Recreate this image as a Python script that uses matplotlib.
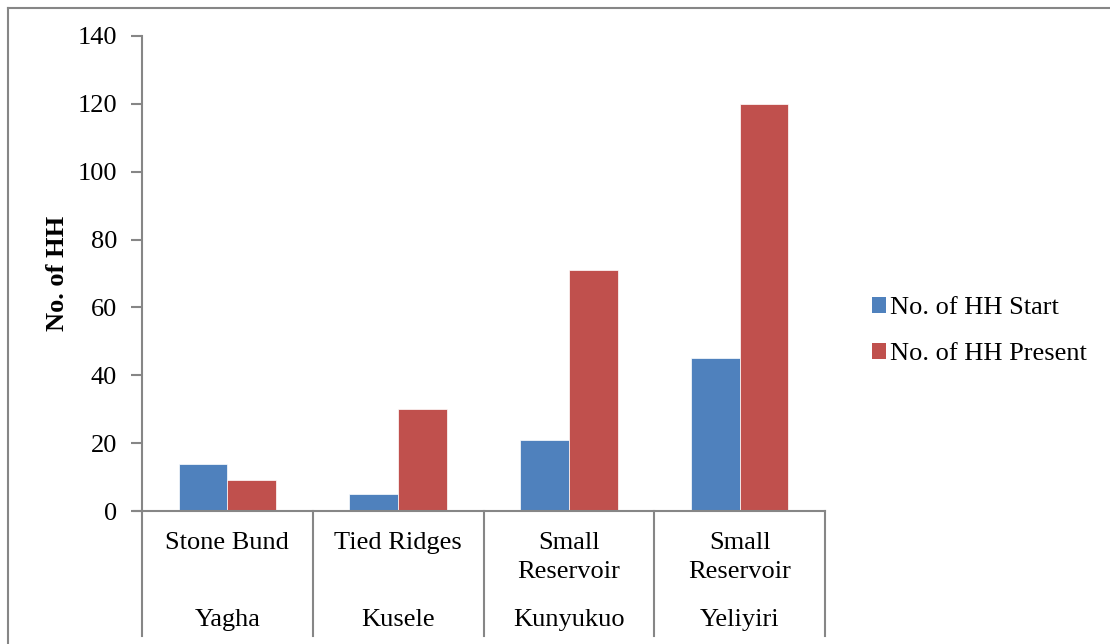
import matplotlib
matplotlib.use("Agg")
import matplotlib.pyplot as plt
from matplotlib.lines import Line2D
from matplotlib.patches import Patch

practices = ["Stone Bund", "Tied Ridges", "Small\nReservoir", "Small\nReservoir"]
communities = ["Yagha", "Kusele", "Kunyukuo", "Yeliyiri"]
hh_start = [14, 5, 21, 45]
hh_present = [9, 30, 71, 120]
series_names = ["No. of HH Start", "No. of HH Present"]
yticks = [0, 20, 40, 60, 80, 100, 120, 140]

plt.rcParams['font.family'] = ['Liberation Serif', 'DejaVu Serif']

W, H = 1110, 644
fig = plt.figure(figsize=(W / 100, H / 100), dpi=100)
gray = "#868686"
blue = "#4F81BD"
red = "#C0504D"
FS = 19

left, right, bottom, top = 142, 825, 511, 36
ax = fig.add_axes([left / W, 1 - bottom / H, (right - left) / W, (bottom - top) / H])

n = len(communities)
w = 1 / 3.5
xs = [i + 0.5 for i in range(n)]
ax.bar([x - w / 2 for x in xs], hh_start, width=w, color=blue, edgecolor="white", linewidth=0.5, label=series_names[0])
ax.bar([x + w / 2 for x in xs], hh_present, width=w, color=red, edgecolor="white", linewidth=0.5, label=series_names[1])

ax.set_xlim(0, n)
ax.set_ylim(0, 140)
ax.set_yticks(yticks)
ax.set_yticklabels([str(t) for t in yticks], fontsize=FS)
ax.set_xticks([])
for s in ["top", "right"]:
    ax.spines[s].set_visible(False)
for s in ["left", "bottom"]:
    ax.spines[s].set_color(gray)
    ax.spines[s].set_linewidth(1.5)
ax.tick_params(axis="y", direction="out", length=8, width=1.5, color=gray, pad=10)

def fx(px):
    return px / W

def fy(py):
    return 1 - py / H

fig.text(fx(57), fy(273), "No. of HH", rotation=90, ha="center", va="center",
         fontsize=FS, fontweight="bold")

# Multi-level category axis
bounds = [left + i * (right - left) / n for i in range(n + 1)]
for b in bounds:
    fig.add_artist(Line2D([fx(b), fx(b)], [fy(bottom), fy(636)], color=gray, linewidth=1.5))
fig.add_artist(Line2D([fx(134), fx(left)], [fy(bottom), fy(bottom)], color=gray, linewidth=1.5))

for i in range(n):
    cx = (bounds[i] + bounds[i + 1]) / 2
    fig.text(fx(cx), fy(532), practices[i], ha="center", va="top", fontsize=FS, linespacing=1.4)
    fig.text(fx(cx), fy(620), communities[i], ha="center", va="center", fontsize=FS)

# Legend
handles = [Patch(facecolor=blue, edgecolor="none"), Patch(facecolor=red, edgecolor="none")]
fig.legend(handles, series_names, loc="center left", bbox_to_anchor=(fx(848), fy(331)),
           frameon=False, fontsize=FS, handlelength=0.55, handleheight=0.55,
           handletextpad=0.15, labelspacing=0.9)

# Outer chart frame
fig.add_artist(Line2D([fx(8), fx(8)], [fy(8), 0], color=gray, linewidth=1.5))
fig.add_artist(Line2D([fx(8), 1], [fy(8), fy(8)], color=gray, linewidth=1.5))

fig.savefig("out.png", dpi=100)
